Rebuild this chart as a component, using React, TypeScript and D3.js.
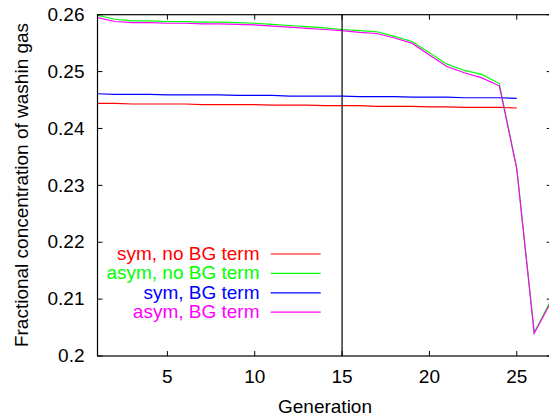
import React, { useEffect, useRef } from "react";
import * as d3 from "d3";

// generations 1..27
const generations = d3.range(1, 28);

const symNoBG = [
  0.2444, 0.2444, 0.2443, 0.2443, 0.2443, 0.2443, 0.2442, 0.2442, 0.2442,
  0.2442, 0.2441, 0.2441, 0.2441, 0.244, 0.244, 0.244, 0.2439, 0.2439,
  0.2439, 0.2438, 0.2438, 0.2437, 0.2437, 0.2437, 0.2436,
];
const asymNoBG = [
  0.2599, 0.2592, 0.2589, 0.2589, 0.2588, 0.2588, 0.2587, 0.2587, 0.2586,
  0.2585, 0.2583, 0.2581, 0.2579, 0.2577, 0.2574, 0.2572, 0.257, 0.2562,
  0.2553, 0.2533, 0.2513, 0.2502, 0.2495, 0.2479, 0.233, 0.2041, 0.2101,
];
const symBG = [
  0.2461, 0.246, 0.246, 0.246, 0.2459, 0.2459, 0.2459, 0.2459, 0.2458,
  0.2458, 0.2458, 0.2457, 0.2457, 0.2457, 0.2457, 0.2456, 0.2456, 0.2456,
  0.2455, 0.2455, 0.2455, 0.2454, 0.2454, 0.2454, 0.2453,
];
const asymBG = [
  0.2595, 0.2588, 0.2586, 0.2586, 0.2585, 0.2585, 0.2584, 0.2584, 0.2583,
  0.2582, 0.258, 0.2578, 0.2576, 0.2574, 0.2572, 0.2569, 0.2567, 0.2559,
  0.255, 0.2529, 0.2509, 0.2498, 0.2489, 0.2475, 0.2329, 0.204, 0.2097,
];

const seriesNames = [
  "sym, no BG term",
  "asym, no BG term",
  "sym, BG term",
  "asym, BG term",
];
const seriesColors = ["#ff0000", "#00ff00", "#0000ff", "#ff00ff"];
const seriesValues = [symNoBG, asymNoBG, symBG, asymBG];

const xTicks = [5, 10, 15, 20, 25];
const yTicks = [0.2, 0.21, 0.22, 0.23, 0.24, 0.25, 0.26];
const markerGen = 15;

export default function App() {
  const ref = useRef<SVGSVGElement>(null);

  useEffect(() => {
    const svg = d3.select(ref.current);
    svg.selectAll("*").remove();

    const left = 97.5,
      right = 551.7,
      top = 14.7,
      bottom = 356;
    const font = "'Liberation Sans', Arial, sans-serif";
    const fs = "19px";

    const x = d3.scaleLinear().domain([1, 27]).range([left, right]);
    const y = d3.scaleLinear().domain([0.2, 0.26]).range([bottom, top]);

    svg
      .append("defs")
      .append("clipPath")
      .attr("id", "plotclip")
      .append("rect")
      .attr("x", left)
      .attr("y", top)
      .attr("width", right - left)
      .attr("height", bottom - top);

    // data lines
    const line = d3
      .line<number>()
      .x((d, i) => x(generations[i]))
      .y((d) => y(d));

    const plot = svg.append("g").attr("clip-path", "url(#plotclip)");
    seriesValues.forEach((vals, i) => {
      plot
        .append("path")
        .attr("d", line(vals))
        .attr("fill", "none")
        .attr("stroke", seriesColors[i])
        .attr("stroke-width", 1.2);
    });

    // vertical marker at generation 15
    svg
      .append("line")
      .attr("x1", x(markerGen))
      .attr("x2", x(markerGen))
      .attr("y1", top)
      .attr("y2", bottom)
      .attr("stroke", "#000")
      .attr("stroke-width", 1.2);

    // frame
    svg
      .append("rect")
      .attr("x", left)
      .attr("y", top)
      .attr("width", right - left)
      .attr("height", bottom - top)
      .attr("fill", "none")
      .attr("stroke", "#000")
      .attr("stroke-width", 1.2);

    const tickLen = 5;
    const ticks = svg.append("g").attr("stroke", "#000").attr("stroke-width", 1);
    xTicks.forEach((t) => {
      ticks.append("line").attr("x1", x(t)).attr("x2", x(t)).attr("y1", bottom).attr("y2", bottom - tickLen);
      ticks.append("line").attr("x1", x(t)).attr("x2", x(t)).attr("y1", top).attr("y2", top + tickLen);
    });
    yTicks.forEach((t) => {
      ticks.append("line").attr("x1", left).attr("x2", left + tickLen).attr("y1", y(t)).attr("y2", y(t));
      ticks.append("line").attr("x1", right).attr("x2", right - tickLen).attr("y1", y(t)).attr("y2", y(t));
    });

    // tick labels
    svg
      .selectAll(".xlab")
      .data(xTicks)
      .enter()
      .append("text")
      .attr("x", (d) => x(d))
      .attr("y", 382.5)
      .attr("text-anchor", "middle")
      .style("font-family", font)
      .style("font-size", fs)
      .text((d) => d);

    svg
      .selectAll(".ylab")
      .data(yTicks)
      .enter()
      .append("text")
      .attr("x", 84.5)
      .attr("y", (d) => y(d) + 6.2)
      .attr("text-anchor", "end")
      .style("font-family", font)
      .style("font-size", fs)
      .text((d) => (d === 0.2 ? "0.2" : d3.format(".2f")(d)));

    // axis titles
    svg
      .append("text")
      .attr("x", 325)
      .attr("y", 413)
      .attr("text-anchor", "middle")
      .style("font-family", font)
      .style("font-size", fs)
      .text("Generation");

    svg
      .append("text")
      .attr("transform", "translate(27.5,185) rotate(-90)")
      .attr("text-anchor", "middle")
      .style("font-family", font)
      .style("font-size", fs)
      .text("Fractional concentration of washin gas");

    // legend
    const legend = svg.append("g");
    seriesNames.forEach((name, i) => {
      const ly = 254 + i * 19.4;
      legend
        .append("text")
        .attr("x", 259.5)
        .attr("y", ly + 6)
        .attr("text-anchor", "end")
        .style("font-family", font)
        .style("font-size", fs)
        .style("fill", seriesColors[i])
        .text(name);
      legend
        .append("line")
        .attr("x1", 270.7)
        .attr("x2", 320.7)
        .attr("y1", ly)
        .attr("y2", ly)
        .attr("stroke", seriesColors[i])
        .attr("stroke-width", 1.2);
    });
  }, []);

  return (
    <svg
      ref={ref}
      width={549}
      height={416}
      style={{ position: "absolute", left: 0, top: 0, background: "#fff" }}
    />
  );
}
